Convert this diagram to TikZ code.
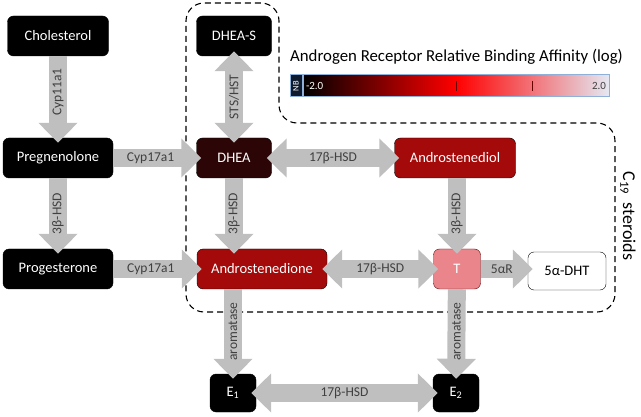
\documentclass[tikz,border=0pt]{standalone}
\usepackage{fontspec}
\setmainfont{Carlito}
\usepackage{tikz}
\usetikzlibrary{arrows.meta}

\definecolor{arrowgray}{RGB}{191,191,191}
\definecolor{labelgray}{RGB}{64,64,64}
\definecolor{dheared}{RGB}{44,6,6}
\definecolor{darkred}{RGB}{165,10,10}
\definecolor{pinkT}{RGB}{233,133,139}
\definecolor{barblue}{RGB}{143,176,216}
\definecolor{nbnavy}{RGB}{14,26,46}
\definecolor{barwhite}{RGB}{228,232,242}

\begin{document}
\begin{tikzpicture}[x=1pt,y=-1pt,>={Triangle[length=20pt,width=38pt]},
    flow/.style={draw=arrowgray,line width=18pt,->,shorten >=-5pt},
    flowboth/.style={draw=arrowgray,line width=18pt,<->,shorten >=-5pt,shorten <=-5pt}]
        \tikzstyle{mol}=[rounded corners=6pt,draw=black,fill=black,text=white,minimum height=40pt,inner sep=2pt,font=\fontsize{14.5}{16}\selectfont]
        \tikzstyle{enz}=[text=labelgray,inner sep=1pt,font=\fontsize{13.5}{15}\selectfont]
    \useasboundingbox (0,0) rectangle (641,417);
    % C19 steroids region
    \draw[dashed,dash pattern=on 6pt off 4pt,line width=1.1pt,rounded corners=18pt]
        (186,150) -- (186,3) -- (279,3) -- (279,123) -- (615,123) -- (615,312) -- (186,312) -- cycle;
    \node[rotate=-90,font=\fontsize{18}{20}\selectfont] (c19) at (628,216) {C\textsubscript{19}\ \ steroids};
    % binding affinity scale
    \node[font=\fontsize{16.8}{18}\selectfont,anchor=west,inner sep=0pt] (bartitle) at (290,57) {Androgen Receptor Relative Binding Affinity (log)};
    \node[draw=barblue,line width=1pt,fill=nbnavy,minimum width=12pt,minimum height=22pt,inner sep=0pt] (nb) at (296,86) {};
    \node[rotate=90,text=white,font=\fontsize{8.5}{9}\selectfont,inner sep=0pt] at (nb) {NB};
    \node[draw=barblue,line width=1pt,left color=black,right color=barwhite,middle color=red,
          minimum width=306pt,minimum height=22pt,inner sep=0pt] (bar) at (456,86) {};
    \node[text=white,font=\fontsize{11}{12}\selectfont,anchor=west] at (bar.west) {-2.0};
    \node[text=labelgray,font=\fontsize{11}{12}\selectfont,anchor=east] at (bar.east) {2.0};
    \foreach \tx/\tc in {379.5/black!50!red,456/black!60!red,532.5/black!60!red}
        \draw[\tc,line width=1pt] (\tx,81) -- (\tx,91);
    % molecules
    \node[mol,minimum width=101pt] (chol) at (58,36) {Cholesterol};
    \node[mol,minimum width=75pt] (dheas) at (234,36) {DHEA-S};
    \node[mol,minimum width=110pt] (preg) at (58,158) {Pregnenolone};
    \node[mol,minimum width=75pt,fill=dheared] (dhea) at (234,158) {DHEA};
    \node[mol,minimum width=121pt,fill=darkred] (adiol) at (455,158) {Androstenediol};
    \node[mol,minimum width=110pt] (prog) at (58,269) {Progesterone};
    \node[mol,minimum width=130pt,fill=darkred] (adione) at (262,269) {Androstenedione};
    \node[mol,minimum width=47pt,fill=pinkT,draw=darkred!60!black] (T) at (457,269) {T};
    \node[mol,minimum width=78pt,minimum height=38pt,fill=white,text=black] (dht) at (567,271) {5α-DHT};
    \node[mol,minimum width=46pt,minimum height=38pt] (e1) at (233,393) {E\textsubscript{1}};
    \node[mol,minimum width=46pt,minimum height=38pt] (e2) at (456,393) {E\textsubscript{2}};
    % conversions
    \draw[flow] (chol) -- node[enz,rotate=90,pos=.44] {Cyp11a1} (preg);
    \draw[flow] (preg) -- node[enz,pos=.45] {Cyp17a1} (dhea);
    \draw[flow] (preg) -- node[enz,rotate=90] {3β-HSD} (prog);
    \draw[flow] (prog) -- node[enz,pos=.45] {Cyp17a1} (adione);
    \draw[flowboth] (dhea) -- node[enz,rotate=90] {STS/HST} (dheas);
    \draw[flow] (dhea) -- node[enz,rotate=90] {3β-HSD} (dhea |- adione.north);
    \draw[flowboth] (dhea) -- node[enz] {17β-HSD} (adiol);
    \draw[flow] (T |- adiol.south) -- node[enz,rotate=90] {3β-HSD} (T);
    \draw[flowboth] (adione) -- node[enz] {17β-HSD} (T);
    \draw[flow] (T) -- node[enz,pos=.45] {5αR} (T -| dht.west);
    \draw[flow] (adione.south -| e1) -- node[enz,rotate=90] {aromatase} (e1);
    \draw[flow] (T) -- node[enz,rotate=90] {aromatase} (e2);
    \draw[flowboth] (e1) -- node[enz] {17β-HSD} (e2);
\end{tikzpicture}
\end{document}
